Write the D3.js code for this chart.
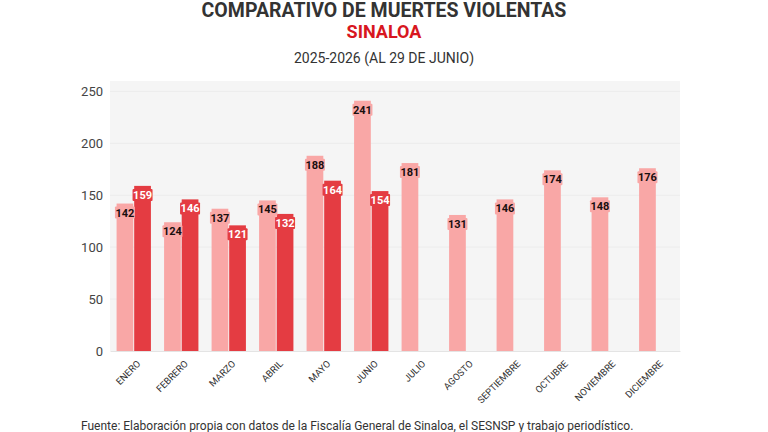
<!DOCTYPE html>
<html>
<head>
<meta charset="utf-8">
<script src="https://cdn.jsdelivr.net/npm/d3@7"></script>
<style>
	body { margin:0; background:#fff; font-family: "Roboto", "Open Sans", sans-serif; }
	svg { display:block; }
</style>
</head>
<body>
<div id="chart"></div>
<script>
// data
const months = ["ENERO","FEBRERO","MARZO","ABRIL","MAYO","JUNIO","JULIO","AGOSTO","SEPTIEMBRE","OCTUBRE","NOVIEMBRE","DICIEMBRE"]
const years = ["2025","2026"]
const values2025 = [142,124,137,145,188,241,181,131,146,174,148,176]
const values2026 = [159,146,121,132,164,154]
const yTicks = [0,50,100,150,200,250]

const colors = { "2025": "#f9a7a6", "2026": "#e43c42" }
const labelColors = { "2025": "#1a0f0f", "2026": "#ffffff" }

const svgWidth = 768, svgHeight = 432
const margin = { left:110, right:88, top:81, bottom:81 }
const width = svgWidth - margin.left - margin.right,
	height = svgHeight - margin.top - margin.bottom

let svg = d3.select("#chart")
	.append("svg")
	.attr("width", svgWidth)
	.attr("height", svgHeight)

// titles
svg.append("text")
	.attr("x", 384).attr("y", 17)
	.attr("text-anchor", "middle")
	.attr("font-size", "19.5px").attr("font-weight", 700)
	.attr("fill", "#333")
	.text("COMPARATIVO DE MUERTES VIOLENTAS")
svg.append("text")
	.attr("x", 384).attr("y", 38)
	.attr("text-anchor", "middle")
	.attr("font-size", "18px").attr("font-weight", 700)
	.attr("fill", "#d81620")
	.text("SINALOA")
svg.append("text")
	.attr("x", 384).attr("y", 63)
	.attr("text-anchor", "middle")
	.attr("font-size", "14px")
	.attr("fill", "#333")
	.text("2025-2026 (AL 29 DE JUNIO)")

let g = svg.append("g")
	.attr("transform", "translate(" + margin.left + ", " + margin.top + ")")

g.append("rect")
	.attr("width", width).attr("height", height)
	.attr("fill", "#f5f5f5")

var y = d3.scaleLinear()
	.domain([0, 260])
	.range([height, 0])

var x0 = d3.scaleBand()
	.domain(months)
	.range([0, width])
	.paddingInner(0.24)
	.paddingOuter(0.12)

var x1 = d3.scaleBand()
	.domain(years)
	.range([0, x0.bandwidth()])
	.padding(0.05)

// gridlines
g.selectAll("line.grid")
	.data(yTicks.slice(1))
	.enter().append("line")
	.attr("class", "grid")
	.attr("x1", 0).attr("x2", width)
	.attr("y1", d => y(d)).attr("y2", d => y(d))
	.attr("stroke", "#ececec")
	.attr("stroke-width", 1)

let rows = []
months.forEach((m, i) => {
	rows.push({ month: m, year: "2025", value: values2025[i] })
	if (values2026[i] != null) rows.push({ month: m, year: "2026", value: values2026[i] })
})

g.selectAll("rect.bar")
	.data(rows)
	.enter().append("rect")
	.attr("class", "bar")
	.attr("x", d => x0(d.month) + x1(d.year))
	.attr("y", d => y(d.value))
	.attr("width", x1.bandwidth())
	.attr("height", d => height - y(d.value))
	.attr("fill", d => colors[d.year])

// value labels with a small box in the bar colour
let labels = g.selectAll("g.lbl")
	.data(rows)
	.enter().append("g")
	.attr("class", "lbl")
	.attr("transform", d => "translate(" + (x0(d.month) + x1(d.year) + x1.bandwidth()/2) + "," + (y(d.value) + 9) + ")")

labels.append("rect")
	.attr("x", -10).attr("y", -6)
	.attr("width", 20).attr("height", 12)
	.attr("rx", 1)
	.attr("fill", d => colors[d.year])

labels.append("text")
	.attr("text-anchor", "middle")
	.attr("dy", "0.36em")
	.attr("font-size", "11px").attr("font-weight", 700)
	.attr("fill", d => labelColors[d.year])
	.text(d => d.value)

// axes
var yAxisCall = d3.axisLeft(y).tickValues(yTicks).tickSize(0).tickPadding(7)
let yAxis = g.append("g").attr("class", "y axis").call(yAxisCall)
yAxis.select(".domain").remove()
yAxis.selectAll("text").attr("font-size", "13px").attr("fill", "#444").attr("font-family", "Roboto, sans-serif")

var xAxisCall = d3.axisBottom(x0).tickSize(0).tickFormat("")
let xAxis = g.append("g")
	.attr("class", "x axis")
	.attr("transform", "translate(0, " + height + ")")
	.call(xAxisCall)
xAxis.select(".domain").attr("stroke", "#e4e4e4")

// month labels, rotated 45 degrees
g.append("g")
	.attr("class", "x labels")
	.selectAll("text")
	.data(months)
	.enter().append("text")
	.attr("transform", d => "translate(" + (x0(d) + x0.bandwidth()/2 + 5) + "," + (height + 11) + ") rotate(-45)")
	.attr("text-anchor", "end")
	.attr("dy", "0.35em")
	.attr("font-size", "9.5px")
	.attr("fill", "#333")
	.text(d => d)

svg.append("text")
	.attr("x", 81).attr("y", 430)
	.attr("font-size", "12px")
	.attr("fill", "#333")
	.text("Fuente: Elaboración propia con datos de la Fiscalía General de Sinaloa, el SESNSP y trabajo periodístico.")
</script>
</body>
</html>
